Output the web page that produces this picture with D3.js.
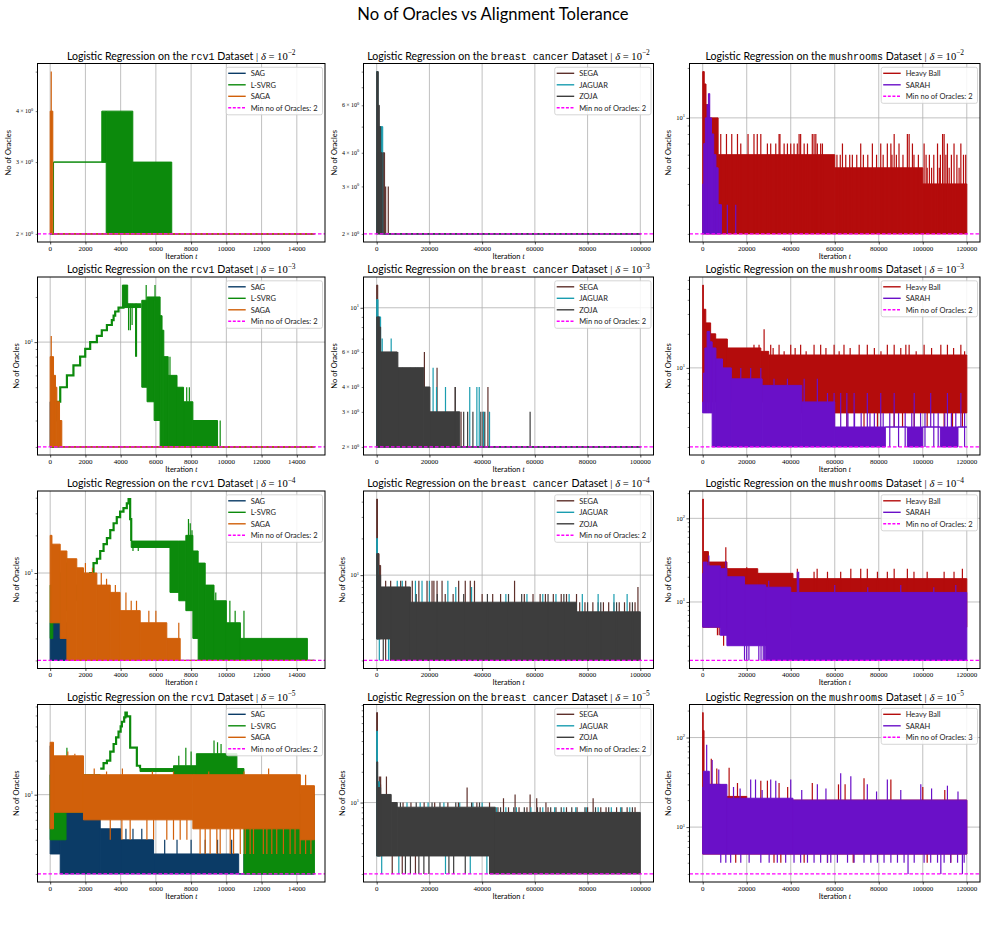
<!DOCTYPE html>
<html><head><meta charset="utf-8">
<script src="https://cdn.jsdelivr.net/npm/d3@7"></script>
<style>body{margin:0;background:#fff}</style>
</head><body>
<script>
// ---------------- DATA ----------------
const figTitle = "No of Oracles vs Alignment Tolerance";
const datasets = ["rcv1", "breast cancer", "mushrooms"];
const deltaExponents = [-2, -3, -4, -5];
const methodNames = [["SAG", "L-SVRG", "SAGA"], ["SEGA", "JAGUAR", "ZOJA"], ["Heavy Ball", "SARAH"]];
const methodColors = [["#0b3b66", "#0c8a0c", "#d1600a"], ["#5e302b", "#1a9db0", "#3d3d3d"], ["#b40c0c", "#6a10c8"]];
const minOracles = [[2, 2, 2], [2, 2, 2], [2, 2, 2], [2, 2, 3]];
const xTickValues = [
  [0, 2000, 4000, 6000, 8000, 10000, 12000, 14000],
  [0, 20000, 40000, 60000, 80000, 100000],
  [0, 20000, 40000, 60000, 80000, 100000, 120000]
];
const xDomains = [[-720, 15600], [-5000, 105000], [-6000, 126000]];
// minor (m x 10^k) tick labels shown per panel
const yMinorLabels = [
  [[2, 3, 4], [2, 3, 4, 6], []],
  [[], [2, 3, 4, 6], []],
  [[], [], []],
  [[], [], []]
];

// marks: [x0, x1, low, high] = oscillation band ; [x, low, high] = single spike
// ---- delta = 1e-2 ----
const r2_SAG = [[0,15000,2,2]];
const r2_LSVRG = [[0,190,2,2],[190,190,2,3],[190,3180,3,3],[2930,3180,3,4],[3180,4690,2,4],[4690,6900,2,3],[6900,15000,2,2]];
const r2_SAGA = [[0,150,2,4],[60,2,5],[150,15000,2,2]];
const b2_SEGA = [[0,3000,2,4],[3400,2,3],[4400,2,3],[3000,100000,2,2]];
const b2_JAGUAR = [[0,500,2,8],[1000,2300,2,5],[2300,100000,2,2]];
const b2_ZOJA = [[0,600,2,8],[600,1000,2,6],[1000,1500,2,5],[1500,2100,2,4],[2100,100000,2,2]];
const m2_HB = [[0,700,2,19],[700,1500,2,16],[1500,3000,2,12],[3000,7000,2,10],[7000,60000,2,6],[60000,100000,2,5],[100000,120000,2,4],
  [6700,2,8],[8200,2,8],[10800,2,8],[13200,2,8],[15800,2,8],[20600,2,8],[23300,2,8],[24800,2,8],[26400,2,8],[34700,2,8],[35100,2,8],[43800,2,8],[44500,2,8],[49800,2,8],[50600,2,8],[51400,2,8],[87000,2,8],[93000,2,8],[93800,2,8],[109000,2,8],[109700,2,8],
  [17300,2,7],[29400,2,7],[30900,2,7],[33200,2,7],[37000,2,7],[38500,2,7],[40000,2,7],[41500,2,7],[43000,2,7],[46100,2,7],[47600,2,7],[52100,2,7],[53600,2,7],[54400,2,7],[63500,2,7],[71800,2,7],[77100,2,7],[80900,2,7],[83900,2,7],[85500,2,7],[89200,2,7],[95300,2,7],[100600,2,7],[106700,2,7],[111200,2,7],[114200,2,7],[117300,2,7],
  [61000,2,6],[62500,2,6],[65000,2,6],[66800,2,6],[68000,2,6],[70000,2,6],[73000,2,6],[75000,2,6],[79000,2,6],[82000,2,6],[86000,2,6],[88000,2,6],[91000,2,6],[96000,2,6],[98000,2,6],[101500,2,6],[103000,2,6],[105000,2,6],[108000,2,6],[110500,2,6],[113000,2,6],[115500,2,6],[118500,2,6],[119500,2,6],
  [102000,2,5],[104000,2,5],[107500,2,5],[112000,2,5],[116500,2,5]];
const m2_SARAH = [[0,500,2,4],[500,1200,2,7],[1200,2000,2,10],[2000,2600,2,12],[2600,3200,2,14],[3200,4000,2,10],[4000,5000,2,8],[5000,6000,2,6],[6000,7000,2,5],[7000,8500,2,3],[11200,2,3],[15000,2,3]];

// ---- delta = 1e-3 ----
const r3_SAG = [[0,130,2,4],[130,15000,2,2]];
const r3_LSVRG = [[4100,4400,17,24],[4400,5150,17,18],[4450,12,18],[4550,12,18],[4650,13,18],[4850,8,18],[4900,8,18],[5200,5500,5,19],[5500,5900,4,20],[5900,6240,3,20],[6240,6350,2,15],[6350,6450,2,12],[6450,6700,2,8],[6700,7200,2,6],[7200,7570,2,5],[7570,8100,2,4],[8100,9500,2,3],[5450,19,24],[5950,19,24],[6800,6,8],[7750,4,5],[7900,4,5],[9650,2,3],[9500,15000,2,2]];
const r3_LSVRG_steps = [[0,2],[150,3],[380,4],[570,5],[950,6],[1320,7],[1700,8],[1990,9],[2270,10],[2650,11],[2930,12],[3220,13],[3500,14],[3600,15],[3690,16],[3880,17],[4160,18],[4400,18]];
const r3_SAGA = [[0,190,2,8],[60,2,11],[190,300,2,6],[300,380,2,5],[380,530,2,4],[530,660,2,3],[660,15000,2,2]];
const b3_SEGA = [[0,400,2,13],[900,2,9],[1200,2,8],[6000,2,6],[18100,2,6],[22900,2,5],[29800,2,4],[32000,2,3],[40300,2,3],[42200,2,4],[0,100000,2,2]];
const b3_JAGUAR = [[0,500,2,11],[500,1500,2,9],[1500,2,7],[2100,2,7],[5500,2,7],[9800,2,5],[12800,2,5],[14700,2,5],[15600,2,5],[21400,2,5],[22700,2,4],[26100,2,4],[30900,2,3],[35300,2,4],[38000,2,4],[38900,2,4],[40500,2,3],[42800,2,3],[0,100000,2,2]];
const b3_ZOJA = [[0,1000,2,9],[1000,1500,2,8],[1500,7800,2,6],[7800,17900,2,5],[17900,20200,2,4],[20200,31500,2,3],[8000,2,6],[29800,2,4],[33000,2,3],[34500,2,3],[36500,2,3],[39500,2,3],[41000,2,3],[58200,2,3],[0,100000,2,2]];
const m3_HB = [[0,300,5,54],[300,1400,5,33],[1400,3600,5,25],[3600,5900,5,20],[5900,11200,5,18],[11200,26400,5,15],[26400,30000,5,14],[30000,120000,4,13],
  [27900,14,22],[23300,15,16],[25600,15,16],[30900,13,16],[34700,13,16],[40000,13,16],[44500,13,16],[50600,13,16],[53600,13,16],[59700,13,16],[64200,13,16],[71100,13,16],[74800,13,16],[83900,13,16],[87000,13,16],[92300,13,16],[93800,13,16],[100600,13,16],[108200,13,16],[111200,13,16],[117300,13,16],
  [32000,13,15],[37000,13,14],[42000,13,15],[47000,13,14],[56000,13,15],[62000,13,14],[67000,13,15],[78000,13,15],[81000,13,14],[90000,13,15],[97000,13,14],[104000,13,15],[114000,13,15],[119000,13,14],
  [37000,3,4],[41500,3,4],[46100,3,4],[52100,3,4],[59700,3,4],[65500,3,4],[73300,3,4],[79400,3,4],[87000,3,4],[90800,3,4],[96100,3,4],[102000,3,4],[109700,3,4],[113500,3,4],[118000,3,4]];
const m3_SARAH = [[0,300,4,5],[300,1000,4,9],[1000,2000,4,15],[2000,3200,4,21],[3200,4300,4,17],[4300,6000,2,15],[6000,9000,2,12],[9000,13000,2,10],[13000,27000,2,8],[27000,45000,2,7],[45000,60000,2,5],[60000,83000,2,3],[83000,93000,3,3],[93000,100000,2,3],[100000,108000,3,3],[108000,116000,2,3],[116000,120000,3,3],
  [17300,8,10],[21800,8,10],[26400,8,10],[32400,7,8],[38500,7,8],[46100,5,8],[52100,5,8],[56700,5,6],[59700,5,6],[62700,3,6],[65500,3,6],[68800,3,6],[74800,3,6],[80900,3,6],[87000,3,6],[96100,3,6],[103600,3,6],[111200,3,6],[117300,3,6],
  [66000,3,4],[69000,3,4],[72000,3,4],[76000,3,4],[78000,3,4],[82000,3,4],[85000,2,4],[89000,2,4],[92000,2,4],[95000,3,4],[99000,3,4],[101000,2,4],[105000,2,4],[107000,2,4],[110000,3,4],[113000,3,4],[115000,3,4],[119000,2,4]];

// ---- delta = 1e-4 ----
const r4_SAG = [[0,1000,2,4],[100,4,5],[500,4,6],[1000,15000,2,2]];
const r4_LSVRG = [[0,150,3,8],[150,700,4,10],[700,1150,5,12],[1150,1700,6,8],[4600,6800,16,18],[6800,7300,7,18],[7300,7700,6,18],[7700,8100,5,20],[8100,8400,3,15],[8400,8800,2,12],[8800,9300,2,8],[9300,10000,2,6],[10000,10800,2,4],[10800,14600,2,3],[14600,15000,2,2],
  [7850,18,27],[7950,18,25],[8050,15,22],[9400,6,7],[10200,4,6],[10500,4,5],[11000,3,5],[4700,15,17],[5000,15,16]];
const r4_LSVRG_steps = [[1700,7],[1890,8],[2080,9],[2270,10],[2460,12],[2650,13],[2840,15],[3030,17],[3220,19],[3410,22],[3600,25],[3780,28],[3970,31],[4160,33],[4350,36],[4450,39],[4540,27],[4600,18]];
const r4_SAGA = [[0,100,4,20],[100,570,4,17],[570,950,3,15],[950,1510,2,13],[1510,1890,2,11],[1890,2650,2,10],[2650,3410,2,8],[3410,3970,2,7],[3970,5110,2,5],[5110,6620,2,4],[6620,7380,2,3],
  [2000,10,12],[2400,10,11],[2900,8,10],[3200,8,9],[3700,7,8],[4300,5,7],[4600,5,6],[4900,5,6],[5600,4,5],[6000,4,5],[7300,3,4],[7380,15000,2,2]];
const b4_SEGA = [[0,300,3,42],[300,900,3,15],[900,1500,3,12],
  [3400,2,9],[5300,2,9],[9100,2,9],[11000,2,9],[13500,2,9],[16000,2,9],[19100,2,9],[21000,2,9],[21700,2,9],[22900,2,9],[24800,2,9],[31100,2,9],[33600,2,9],[35500,2,9],[37100,2,9],[52300,2,9],[99100,2,8],
  [26000,2,7],[29000,2,7],[40000,2,7],[44000,2,7],[47000,2,7],[56000,2,7],[59300,2,7],[62000,2,7],[64000,2,7],[67000,2,7],[70000,2,7],[72000,2,7],[75800,2,7],
  [77000,2,6],[79000,2,6],[82000,2,6],[84000,2,6],[86000,2,6],[88000,2,6],[90000,2,6],[92000,2,6],[94000,2,6],[96000,2,6],[98000,2,6]];
const b4_JAGUAR = [[0,300,3,20],[300,600,3,12],[7800,2,9],[9700,2,9],[14700,2,9],[17200,2,9],[20000,2,9],[27000,2,9],[4500,2,8],[12000,2,8],[30000,2,8],[36000,2,8],
  [49000,2,7],[57000,2,7],[63000,2,7],[68000,2,7],[73000,2,7],[78000,2,7],[84000,2,7],[90000,2,7],[95000,2,7],[1000,2,3],[4600,2,3]];
const b4_ZOJA = [[0,600,3,15],[600,1500,3,10],[1500,5300,3,8],[5300,12800,2,8],[12800,75800,2,6],[75800,100000,2,5],[2500,2,3],
  [15000,2,7],[23000,2,7],[33000,2,7],[42000,2,7],[50000,2,7],[55000,2,7],[65000,2,7],[71000,2,7],[80000,2,6],[85000,2,6],[91000,2,6],[97000,2,6]];
const m4_HB = [[0,300,5,170],[300,2600,5,40],[2600,11000,5,30],[11000,25000,5,25],[25000,41000,5,22],[41000,120000,5,19],
  [10500,5,45],[2600,5,35],[20000,5,26],[43000,5,25],[52000,5,25],[67300,5,25],[71800,5,25],[74800,5,25],[87000,5,25],[93000,5,25],[118000,5,25],
  [50600,5,23],[56700,5,23],[62700,5,23],[79400,5,23],[83900,5,23],[96000,5,23],[102000,5,23],[109700,5,23],[114200,5,23],
  [6700,4,5],[7500,4,5],[9500,3,5],[11000,4,5]];
const m4_SARAH = [[0,300,5,22],[300,2000,5,30],[2000,8000,5,27],[8000,11000,4,25],[11000,19000,3,20],[19000,28600,3,16],[28600,40000,2,15],[40000,120000,2,13],
  [2800,5,36],[10500,20,31],[43000,13,23],[43600,13,23],[30000,15,18],[60000,13,16],[75000,13,15],[90000,13,16],[105000,13,15],[115000,13,16],
  [19000,2,3],[20000,2,3],[21000,2,3],[25500,2,3],[26500,2,3],[27500,2,3],[28000,2,3]];

// ---- delta = 1e-5 ----
const r5_SAG = [[0,100,3,27],[100,570,3,8],[570,2840,2,7],[2840,4000,2,5],[4000,5870,2,4],[5870,10700,2,3],[10700,13000,2,2],
  [4300,4,5],[4700,4,5],[5200,4,5],[6500,3,4],[7200,3,4],[8000,3,4],[8800,3,4],[9500,3,4],[10300,3,4],[11000,2,3],[11500,2,3],[12000,2,3],[12600,2,3],[13000,15000,2,2]];
const r5_LSVRG = [[0,900,4,15],[900,2840,7,15],[950,15,26],[1300,15,22],[5100,7000,16,17],[7000,8300,15,18],[7300,18,22],[7700,18,26],[8000,18,24],[8300,10600,14,23],[9300,23,30],[9500,23,29],[9700,23,28],[10600,11000,13,17],[11000,15000,2,10]];
const r5_LSVRG_steps = [[2840,17],[3030,19],[3220,20],[3410,24],[3600,28],[3740,32],[3880,36],[4000,40],[4070,44],[4200,48],[4270,53],[4350,49],[4540,26],[4920,18],[5100,17]];
const r5_SAGA = [[0,190,5,29],[190,1890,7,22],[1890,8100,6,15],[8100,14200,5,15],[14200,15000,4,12],
  [1000,22,24],[1400,22,23],[2500,15,17],[3200,15,16],[4100,15,17],[5800,15,16],[7000,15,16],[9000,15,16],[11000,15,16],[12400,15,17],[14500,12,15],
  [3410,4,6],[4070,4,6],[4540,4,6],[5490,4,6],[5870,4,6],[6620,4,6],[7000,4,6],[7380,4,6],[7760,4,6],[8510,3,5],[8800,3,5],[9080,3,5],[9460,3,5],[9650,3,5],[10220,3,5],[10410,3,5],[10790,3,5],[11070,3,5],[11350,3,5],[11540,3,5],[12100,3,5],[12300,3,5],[12580,3,5],[12860,3,5],[13240,3,5],[13620,3,5],[13900,3,5],[14190,3,5],[14500,3,4],[14800,3,4]];
const b5_SEGA = [[0,300,3,76],[400,1500,3,15],[1000,3,18],[1500,3,18],[3700,3,18],[34300,9,14],[52500,8,12],[58200,8,12],[60700,8,11],[48100,8,11],[82100,8,11],[64200,8,10],[42800,9,10],
  [10000,9,10],[13000,9,10],[18000,9,10],[22000,9,10],[27000,9,10],[31000,9,10],[38000,9,10],
  [46000,8,9],[50000,8,9],[54000,8,9],[57000,8,9],[62000,8,9],[65000,8,9],[68000,8,9],[72000,8,9],[76000,8,9],[80000,8,9],[85000,8,9],[87000,8,9],[91000,8,9],[95000,8,9],[98000,8,9],
  [5900,2,3],[9700,2,3],[14700,2,3]];
const b5_JAGUAR = [[0,300,3,50],[300,1000,3,16],[4000,9,10],[11500,9,10],[16500,9,10],[19500,9,10],[25500,9,10],[31500,9,10],[36500,9,10],[40000,9,10],
  [45500,8,9],[49000,8,9],[53000,8,9],[58500,8,9],[63000,8,9],[67500,8,9],[71000,8,9],[75500,8,9],[79500,8,9],[84000,8,9],[89000,8,9],[92500,8,9],[96000,8,9],
  [1900,2,3],[8400,2,3],[26100,2,3],[35500,2,3],[41800,2,3]];
const b5_ZOJA = [[0,400,3,25],[400,1500,3,14],[1500,5500,3,12],[5500,7800,3,10],[7800,42800,3,9],[42800,45000,2,9],[45000,100000,2,8],
  [9000,9,10],[15000,9,10],[21000,9,10],[24000,9,10],[30000,9,10],[36000,9,10],[39000,9,10],
  [47000,8,9],[52000,8,9],[56000,8,9],[61000,8,9],[66000,8,9],[70000,8,9],[74000,8,9],[79000,8,9],[83000,8,9],[88000,8,9],[93000,8,9],[97000,8,9],
  [10900,2,3],[12800,2,3],[16000,2,3],[17900,2,3],[19800,2,3],[27400,2,3],[29200,2,3],[33600,2,3]];
const m5_HB = [[0,200,5,190],[200,600,5,120],[600,2000,5,40],[2000,8000,5,30],[8000,20000,5,22],[20000,120000,5,20],
  [3900,30,58],[6400,30,45],[12000,22,46],[15800,22,31],[26400,20,33],[29400,20,33],[34700,20,31],[38600,20,28],[49800,20,31],[61700,20,30],[64700,20,30],[73300,20,35],[85500,20,34],[100000,20,28],[110000,20,26],
  [15000,4,5],[32400,4,5],[35500,4,5],[46100,4,5],[56700,4,5],[68400,4,5],[102000,4,5],[112700,4,5]];
const m5_SARAH = [[0,300,5,28],[300,3000,5,42],[3000,11000,5,30],[11000,41000,5,21],[41000,120000,5,20],
  [1800,42,83],[4300,30,56],[7300,30,44],[21800,21,34],[24000,21,34],[30900,21,34],[33200,21,33],[40000,21,34],[52100,20,30],[62700,20,40],[67300,20,37],[74800,20,30],[83900,20,34],[99100,20,30],[111200,20,29],
  [14000,21,28],[17000,21,27],[27000,21,26],[45000,20,26],[56000,20,27],[79000,20,25],[90000,20,26],[104000,20,27],[116000,20,25],
  [8200,4,5],[10500,4,5],[12700,4,5],[17300,4,5],[21100,4,5],[26400,4,5],[30200,4,5],[33900,4,5],[37700,4,5],[41500,4,5],[44500,4,5],[47600,4,5],[50600,4,5],[53600,4,5],[56700,4,5],[58200,4,5],[61200,4,5],[65800,4,5],[68800,4,5],[73300,4,5],[76400,4,5],[79400,4,5],[82400,4,5],[85500,4,5],[88500,4,5],[91500,4,5],[96100,4,5],[100600,4,5],[103600,4,5],[106700,4,5],[109700,4,5],[112700,4,5],[115800,4,5],[118800,4,5],
  [93300,3,5],[108200,3,5],[118000,3,5]];

// panel tables built from the arrays above: [row = delta][col = dataset]
const seriesTable = [
  [[r2_SAG, r2_LSVRG, r2_SAGA], [b2_SEGA, b2_JAGUAR, b2_ZOJA], [m2_HB, m2_SARAH]],
  [[r3_SAG, r3_LSVRG, r3_SAGA], [b3_SEGA, b3_JAGUAR, b3_ZOJA], [m3_HB, m3_SARAH]],
  [[r4_SAG, r4_LSVRG, r4_SAGA], [b4_SEGA, b4_JAGUAR, b4_ZOJA], [m4_HB, m4_SARAH]],
  [[r5_SAG, r5_LSVRG, r5_SAGA], [b5_SEGA, b5_JAGUAR, b5_ZOJA], [m5_HB, m5_SARAH]]
];
const stepsTable = [
  [[null, null, null], [null, null, null], [null, null]],
  [[null, r3_LSVRG_steps, null], [null, null, null], [null, null]],
  [[null, r4_LSVRG_steps, null], [null, null, null], [null, null]],
  [[null, r5_LSVRG_steps, null], [null, null, null], [null, null]]
];

// ---------------- LAYOUT ----------------
const W = 986, H = 948;
const colLeft = [37.5, 363.5, 689.5], colRight = [325, 653.5, 980];
const rowTop = [63.5, 277, 491, 704.5], rowBottom = [242, 455, 668.5, 882];
const SANS = "Lato", SERIF = "Liberation Serif", MONO = "Liberation Mono";

const svg = d3.select("body").append("svg").attr("width", W).attr("height", H);
svg.append("rect").attr("width", W).attr("height", H).attr("fill", "#fff");
const defs = svg.append("defs");

svg.append("text").attr("x", 493).attr("y", 20).attr("text-anchor", "middle")
  .attr("font-family", SANS).attr("font-size", 16.6).attr("fill", "#000").text(figTitle);

function supText(sel, base, exp, size, supSize) {
  sel.append("tspan").text(base);
  sel.append("tspan").attr("font-size", supSize).attr("dy", -size * 0.42).text(exp);
}

for (let r = 0; r < 4; r++) {
  for (let c = 0; c < 3; c++) {
    const L = colLeft[c], R = colRight[c], T = rowTop[r], B = rowBottom[r];
    const series = seriesTable[r][c];
    const steps = stepsTable[r][c];
    let lo = Infinity, hi = -Infinity;
    series.forEach(s => s.forEach(m => {
      const a = m.length === 4 ? m[2] : m[1], b = m.length === 4 ? m[3] : m[2];
      lo = Math.min(lo, a); hi = Math.max(hi, b);
    }));
    steps.forEach(st => st && st.forEach(p => { lo = Math.min(lo, p[1]); hi = Math.max(hi, p[1]); }));
    const pad = Math.pow(hi / lo, 0.05);
    const x = d3.scaleLinear().domain(xDomains[c]).range([L, R]);
    const y = d3.scaleLog().domain([lo / pad, hi * pad]).range([B, T]);
    const [y0, y1] = y.domain();

    const clipId = `clip-${r}-${c}`;
    defs.append("clipPath").attr("id", clipId).append("rect")
      .attr("x", L).attr("y", T).attr("width", R - L).attr("height", B - T);

    const majors = [], minors = [];
    for (let k = Math.floor(Math.log10(y0)); k <= Math.ceil(Math.log10(y1)); k++) {
      const v = Math.pow(10, k);
      if (v >= y0 && v <= y1) majors.push(v);
      for (let m = 2; m <= 9; m++) { const mv = m * v; if (mv >= y0 && mv <= y1) minors.push(mv); }
    }

    // grid
    const grid = svg.append("g").attr("stroke", "#b0b0b0").attr("stroke-width", 0.8);
    grid.selectAll("line.gx").data(xTickValues[c]).join("line").attr("class", "gx")
      .attr("x1", d => x(d)).attr("x2", d => x(d)).attr("y1", T).attr("y2", B);
    grid.selectAll("line.gy").data(majors).join("line").attr("class", "gy")
      .attr("x1", L).attr("x2", R).attr("y1", d => y(d)).attr("y2", d => y(d));

    // data
    const g = svg.append("g").attr("clip-path", `url(#${clipId})`);
    series.forEach((s, i) => {
      const col = methodColors[c][i];
      const gs = g.append("g").attr("stroke", col).attr("fill", col);
      gs.selectAll("path.band").data(s.filter(m => m.length === 4)).join("path").attr("class", "band")
        .attr("stroke-width", 1)
        .attr("d", m => `M${x(m[0])},${y(m[3])}H${x(m[1])}V${y(m[2])}H${x(m[0])}Z`);
      gs.selectAll("path.spike").data(s.filter(m => m.length === 3)).join("path").attr("class", "spike")
        .attr("stroke-width", 1.2).attr("fill", "none")
        .attr("d", m => `M${x(m[0])},${y(m[1])}V${y(m[2])}`);
      if (steps[i]) {
        gs.append("path").datum(steps[i]).attr("fill", "none").attr("stroke-width", 2.2)
          .attr("d", d3.line().x(p => x(p[0])).y(p => y(p[1])).curve(d3.curveStepAfter));
      }
    });
    g.append("line").attr("x1", L).attr("x2", R).attr("y1", y(minOracles[r][c])).attr("y2", y(minOracles[r][c]))
      .attr("stroke", "#ff00ff").attr("stroke-width", 1.3).attr("stroke-dasharray", "3.5,2");

    // frame
    svg.append("rect").attr("x", L).attr("y", T).attr("width", R - L).attr("height", B - T)
      .attr("fill", "none").attr("stroke", "#000").attr("stroke-width", 1);

    // x axis
    const xa = svg.append("g").attr("transform", `translate(0,${B})`)
      .call(d3.axisBottom(x).tickValues(xTickValues[c]).tickSize(2.5).tickFormat(""));
    xa.select(".domain").remove();
    xa.selectAll("line").attr("stroke", "#000").attr("stroke-width", 0.7);
    svg.append("g").selectAll("text").data(xTickValues[c]).join("text")
      .attr("x", d => x(d)).attr("y", B + 8.7).attr("text-anchor", "middle")
      .attr("font-family", SERIF).attr("font-size", 7).attr("fill", "#000").text(d3.format("d"));

    // y axis
    const ya = svg.append("g").attr("transform", `translate(${L},0)`)
      .call(d3.axisLeft(y).tickValues(majors).tickSize(3).tickFormat(""));
    ya.select(".domain").remove();
    ya.selectAll("line").attr("stroke", "#000").attr("stroke-width", 0.7);
    const yb = svg.append("g").attr("transform", `translate(${L},0)`)
      .call(d3.axisLeft(y).tickValues(minors).tickSize(1.8).tickFormat(""));
    yb.select(".domain").remove();
    yb.selectAll("line").attr("stroke", "#000").attr("stroke-width", 0.5);

    const ylab = svg.append("g").attr("font-family", SERIF).attr("fill", "#000");
    majors.forEach(v => {
      const t = ylab.append("text").attr("x", L - 4.5).attr("y", y(v) + 2.2).attr("text-anchor", "end").attr("font-size", 6.5);
      supText(t, "10", String(Math.round(Math.log10(v))), 6.5, 4.5);
    });
    const minorLab = yMinorLabels[r][c];
    minors.forEach(v => {
      const k = Math.floor(Math.log10(v) + 1e-9);
      const m = Math.round(v / Math.pow(10, k));
      if (minorLab.indexOf(m) < 0) return;
      const t = ylab.append("text").attr("x", L - 4.5).attr("y", y(v) + 2.2).attr("text-anchor", "end").attr("font-size", 6);
      supText(t, `${m}\u2009×\u200910`, String(k), 6, 4.2);
    });

    // axis labels
    const xl = svg.append("text").attr("x", (L + R) / 2).attr("y", B + 16.5).attr("text-anchor", "middle")
      .attr("font-size", 7.5).attr("fill", "#000");
    xl.append("tspan").attr("font-family", SANS).text("Iteration ");
    xl.append("tspan").attr("font-family", SERIF).attr("font-style", "italic").text("t");
    const yOff = minorLab.length ? 27 : 19;
    svg.append("text").attr("transform", `translate(${L - yOff},${(T + B) / 2}) rotate(-90)`)
      .attr("text-anchor", "middle").attr("font-family", SANS).attr("font-size", 7.5).attr("fill", "#000")
      .text("No of Oracles");

    // title
    const tt = svg.append("text").attr("x", (L + R) / 2).attr("y", T - 4).attr("text-anchor", "middle")
      .attr("font-size", 10.6).attr("fill", "#000");
    tt.append("tspan").attr("font-family", SANS).text("Logistic Regression on the ");
    tt.append("tspan").attr("font-family", MONO).attr("font-size", 10).text(datasets[c]);
    tt.append("tspan").attr("font-family", SANS).text(" Dataset ");
    tt.append("tspan").attr("font-family", SERIF).text("| ");
    tt.append("tspan").attr("font-family", SERIF).attr("font-style", "italic").text("δ");
    tt.append("tspan").attr("font-family", SERIF).text(" = 10");
    tt.append("tspan").attr("font-family", SERIF).attr("font-size", 7.4).attr("dy", -4.4).text("\u2212" + String(-deltaExponents[r]));

    // legend
    const entries = methodNames[c].map((n, i) => ({ n, col: methodColors[c][i], dash: null }))
      .concat([{ n: `Min no of Oracles: ${minOracles[r][c]}`, col: "#ff00ff", dash: "3,1.6" }]);
    const lg = svg.append("g");
    const boxTop = T + 3.8, rowH = 11.5;
    const texts = entries.map((e, i) => lg.append("text").attr("font-family", SANS).attr("font-size", 7.5)
      .attr("fill", "#222").attr("y", boxTop + 6 + i * rowH + 2.7).text(e.n));
    const tw = d3.max(texts, t => t.node().getComputedTextLength());
    const bw = 2 + 18 + 5.5 + tw + 4;
    const bx = R - 2.5 - bw;
    const bh = 6 + (entries.length - 1) * rowH + 7;
    lg.insert("rect", ":first-child").attr("x", bx).attr("y", boxTop).attr("width", bw).attr("height", bh)
      .attr("rx", 2).attr("fill", "#fff").attr("fill-opacity", 0.85).attr("stroke", "#cccccc").attr("stroke-width", 0.8);
    texts.forEach(t => t.attr("x", bx + 24.5));
    entries.forEach((e, i) => {
      lg.append("line").attr("x1", bx + 2).attr("x2", bx + 19.5)
        .attr("y1", boxTop + 6 + i * rowH).attr("y2", boxTop + 6 + i * rowH)
        .attr("stroke", e.col).attr("stroke-width", 1.4).attr("stroke-dasharray", e.dash);
    });
  }
}
</script>
</body></html>
